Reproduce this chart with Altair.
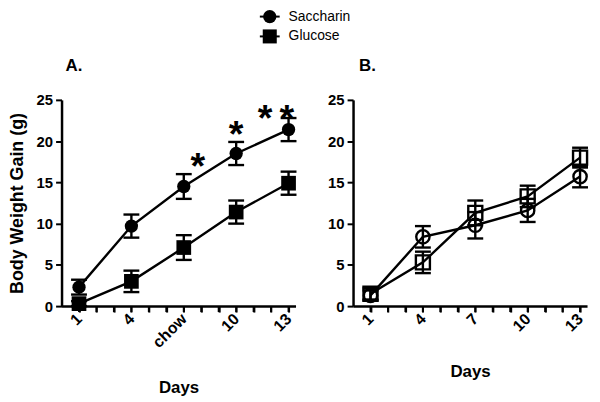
import altair as alt
import pandas as pd

# ---------------- data ----------------
days = [1, 4, 7, 10, 13]
tick_days = list(range(1, 14))
x_labels_a = ["1", "4", "chow", "10", "13"]
x_labels_b = ["1", "4", "7", "10", "13"]

a_sacch_mean = [2.3, 9.7, 14.5, 18.5, 21.4]
a_sacch_sem = [0.9, 1.4, 1.5, 1.4, 1.4]
a_gluc_mean = [0.3, 3.0, 7.1, 11.4, 14.9]
a_gluc_sem = [0.3, 1.3, 1.5, 1.4, 1.4]

b_sacch_mean = [1.3, 8.4, 9.8, 11.6, 15.7]
b_sacch_sem = [0.6, 1.3, 1.6, 1.4, 1.3]
b_gluc_mean = [1.5, 5.3, 11.3, 13.3, 18.0]
b_gluc_sem = [0.7, 1.3, 1.5, 1.3, 1.2]

star_x = [7.8, 10.0, 11.65, 12.9]
star_y = [17.9, 21.8, 23.75, 23.75]

series_names = ["Saccharin", "Glucose"]

FONT = "Liberation Sans"
W, H = 236, 208
SW = 2.4


def frame(means, sems):
    return pd.DataFrame({
        "day": days,
        "mean": means,
        "lo": [m - s for m, s in zip(means, sems)],
        "hi": [m + s for m, s in zip(means, sems)],
    })


def label_expr(labels):
    pairs = " : ".join(
        f"datum.value == {d} ? '{l}'" for d, l in zip(days, labels)
    )
    return pairs + " : ''"


def x_enc(labels, title_y):
    return alt.X(
        "day:Q",
        scale=alt.Scale(domain=[0, 13.4], nice=False, zero=False),
        axis=alt.Axis(
            values=tick_days, labelExpr=label_expr(labels), labelAngle=-45,
            labelAlign="right", labelBaseline="middle", labelOverlap=False,
            labelFlush=False, labelBound=False, labelPadding=4, labelFontSize=16,
            title="Days", titleY=title_y, titleBaseline="middle",
            titleFontSize=17, tickCount=13, ticks=True, tickSize=6,
            tickWidth=2, tickColor="black", tickOpacity=1,
        ),
    )


def y_scale():
    return alt.Scale(domain=[0, 25], nice=False)


def y_axis(show_title):
    return alt.Axis(
        values=[0, 5, 10, 15, 20, 25],
        title="Body Weight Gain (g)" if show_title else None,
        titleFontSize=18, titlePadding=10,
    )


def series(df, shape, filled, size, xe, show_title):
    base = alt.Chart(df)
    ya = y_axis(show_title)
    line = base.mark_line(color="black", strokeWidth=SW, opacity=1).encode(
        x=xe, y=alt.Y("mean:Q", scale=y_scale(), axis=ya))
    err = base.mark_rule(color="black", strokeWidth=SW, opacity=1).encode(
        x=xe, y=alt.Y("lo:Q", scale=y_scale(), axis=ya), y2="hi:Q")
    cap_hi = base.mark_tick(color="black", orient="horizontal", size=16,
                            thickness=SW, opacity=1).encode(
        x=xe, y=alt.Y("hi:Q", scale=y_scale(), axis=ya))
    cap_lo = base.mark_tick(color="black", orient="horizontal", size=16,
                            thickness=SW, opacity=1).encode(
        x=xe, y=alt.Y("lo:Q", scale=y_scale(), axis=ya))
    if filled:
        pm = base.mark_point(shape=shape, filled=True, color="black",
                             size=size, opacity=1)
    else:
        pm = base.mark_point(shape=shape, filled=False, color="black",
                             strokeWidth=2.4, size=size, opacity=1)
    pts = pm.encode(x=xe, y=alt.Y("mean:Q", scale=y_scale(), axis=ya))
    return [line, err, cap_hi, cap_lo, pts]


def tick_layer(xe):
    return alt.Chart(pd.DataFrame({"day": tick_days})).mark_rule(
        color="black", strokeWidth=2, opacity=1).encode(
        x=xe, y=alt.value(H), y2=alt.value(H + 6))


def one(label):
    return alt.Chart(pd.DataFrame({"t": [label]}))


# ---------- panel A ----------
xa = x_enc(x_labels_a, 82)
layers_a = [tick_layer(xa)]
layers_a += series(frame(a_sacch_mean, a_sacch_sem), "circle", True, 180, xa, True)
layers_a += series(frame(a_gluc_mean, a_gluc_sem), "square", True, 220, xa, True)

stars = alt.Chart(pd.DataFrame({"day": star_x, "mean": star_y})).mark_text(
    text="*", font=FONT, fontWeight="bold", fontSize=38, baseline="alphabetic",
    dy=21, color="black").encode(
    x=xa, y=alt.Y("mean:Q", scale=y_scale(), axis=y_axis(True)))
layers_a.append(stars)

panel_label_a = one("A.").mark_text(
    font=FONT, fontWeight="bold", fontSize=17, align="left", baseline="middle",
    color="black").encode(text="t:N", x=alt.value(4), y=alt.value(-34))
layers_a.append(panel_label_a)

# legend (drawn as marks above panel A)
leg_y = [-84, -64]
leg_shapes = ["circle", "square"]
leg_sizes = [180, 200]
for name, ly, shp, sz in zip(series_names, leg_y, leg_shapes, leg_sizes):
    c = one(name)
    layers_a.append(c.mark_rule(color="black", strokeWidth=2).encode(
        x=alt.value(200), x2=alt.value(220), y=alt.value(ly)))
    layers_a.append(c.mark_point(shape=shp, filled=True, color="black",
                                 size=sz, opacity=1).encode(
        x=alt.value(210), y=alt.value(ly)))
    layers_a.append(c.mark_text(font=FONT, fontSize=14, align="left",
                                baseline="middle", color="black").encode(
        text="t:N", x=alt.value(229), y=alt.value(ly)))

panel_a = alt.layer(*layers_a).properties(width=W, height=H)

# ---------- panel B ----------
xb = x_enc(x_labels_b, 66)
layers_b = [tick_layer(xb)]
layers_b += series(frame(b_sacch_mean, b_sacch_sem), "circle", False, 180, xb, False)
layers_b += series(frame(b_gluc_mean, b_gluc_sem), "square", False, 200, xb, False)
panel_label_b = one("B.").mark_text(
    font=FONT, fontWeight="bold", fontSize=17, align="left", baseline="middle",
    color="black").encode(text="t:N", x=alt.value(6), y=alt.value(-34))
layers_b.append(panel_label_b)
panel_b = alt.layer(*layers_b).properties(width=W, height=H)

chart = alt.hconcat(panel_a, panel_b, spacing=58, bounds="flush").properties(
    padding={"left": 0, "top": 0, "right": 0, "bottom": 0},
    background="white",
).configure_view(stroke=None).configure_axis(
    grid=False, domainColor="black", domainWidth=2.5, tickColor="black",
    tickWidth=2, tickSize=6, labelFont=FONT, labelFontWeight="bold",
    labelFontSize=15, labelColor="black", titleFont=FONT,
    titleFontWeight="bold", titleColor="black", labelPadding=3,
).configure_axisX(labelOverlap=False)

chart.save("out.html", embed_options={"renderer": "svg", "actions": False})
